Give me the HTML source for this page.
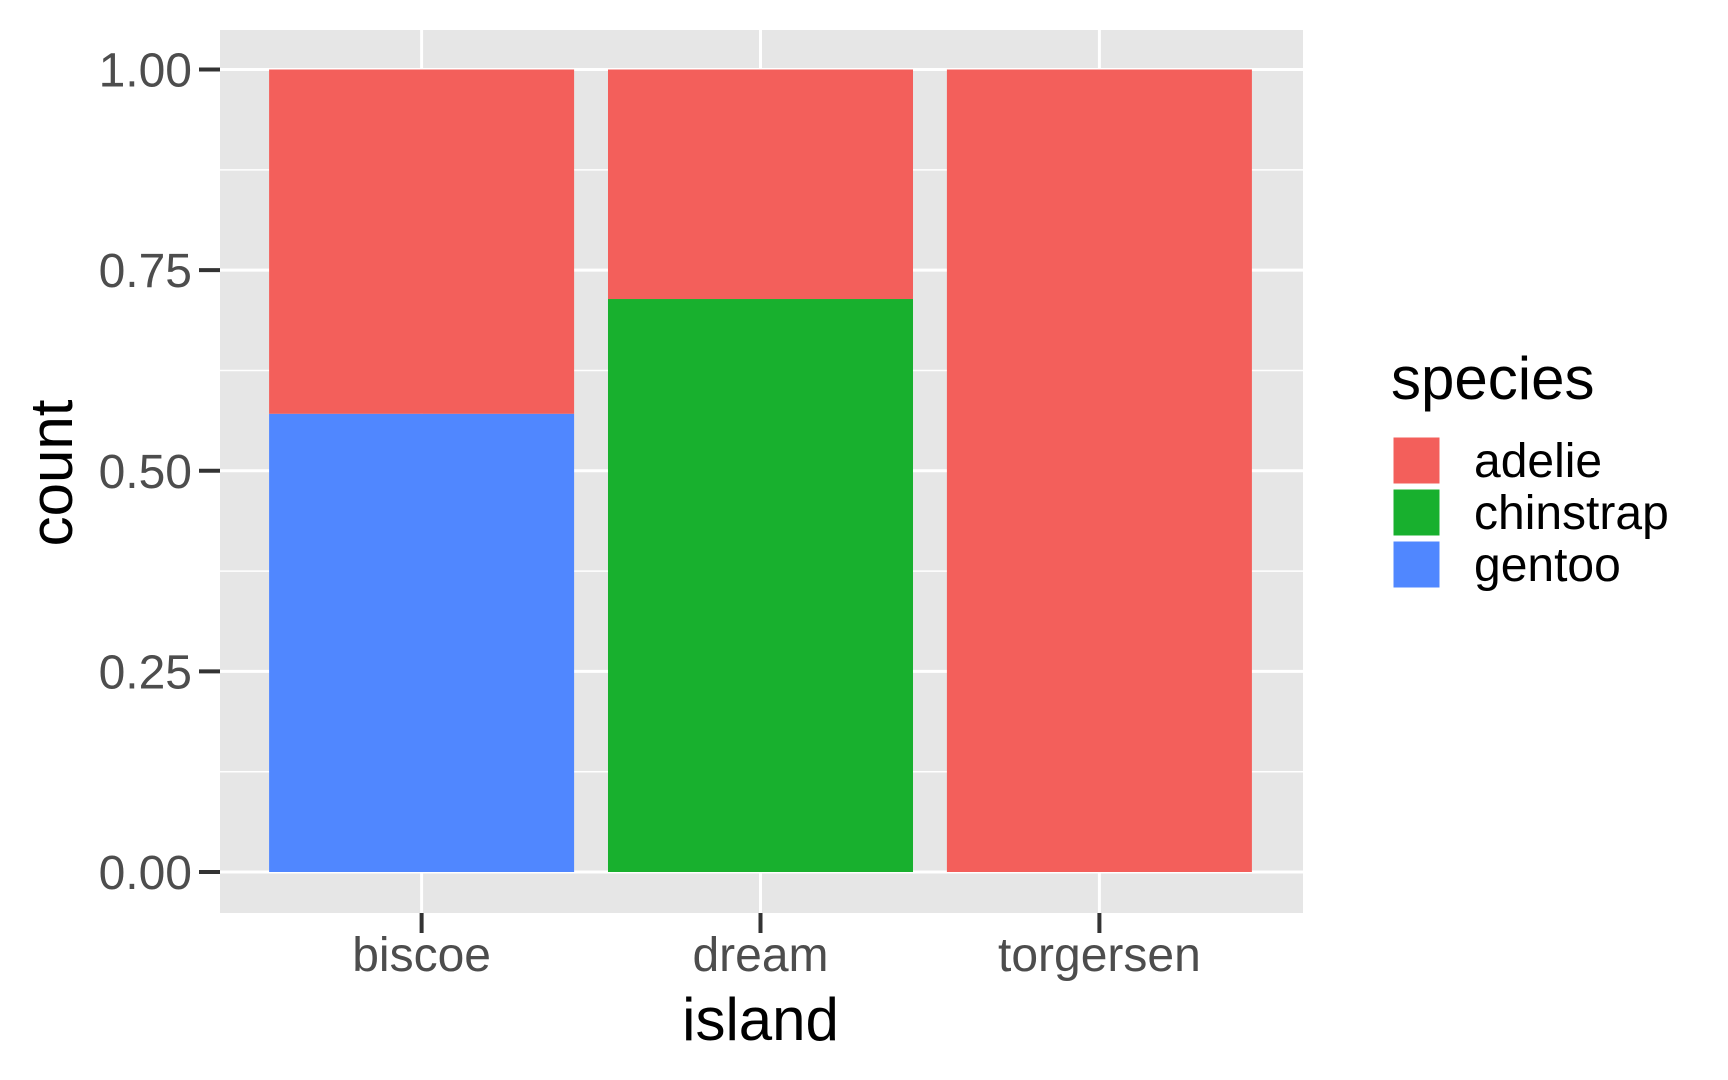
<!DOCTYPE html>
<html><head><meta charset="utf-8"><style>body{margin:0;background:#fff}svg{display:block}text{font-family:"Liberation Sans",sans-serif}</style></head>
<body>
<svg id="chart" width="1728" height="1080" xmlns="http://www.w3.org/2000/svg"></svg>
<script>
const categories = ["biscoe","dream","torgersen"];
const species = ["adelie","chinstrap","gentoo"];
const colors = ["#F35F5B","#18B02E","#5087FF"];
const adelie = [0.429, 0.286, 1.0];
const chinstrap = [0, 0.714, 0];
const gentoo = [0.571, 0, 0];
const yTicks = [0, 0.25, 0.5, 0.75, 1.0];
const yTickLabels = ["0.00","0.25","0.50","0.75","1.00"];

const NS="http://www.w3.org/2000/svg";
const svg=document.getElementById('chart');
const P={l:220,r:1303,t:30,b:913};
const y0=872,y1=69.5;
const yS=v=>y0-(y0-y1)*v;
const step=338.9, xC=i=>421.6+i*step, bw=step*0.9;
function mk(tag,attrs,parent){const e=document.createElementNS(NS,tag);for(const k in attrs)e.setAttribute(k,attrs[k]);(parent||svg).appendChild(e);return e;}

const panel=mk('rect',{x:P.l,y:P.t,width:P.r-P.l,height:P.b-P.t,fill:'#E6E6E6'});


for(let i=0;i<yTicks.length-1;i++){
  const v=(yTicks[i]+yTicks[i+1])/2;
  const g=mk('line',{x1:P.l,x2:P.r,y1:yS(v),y2:yS(v),stroke:'#fff','stroke-width':1.5});
  
  
}
yTicks.forEach((v,i)=>{
  const g=mk('line',{x1:P.l,x2:P.r,y1:yS(v),y2:yS(v),stroke:'#fff','stroke-width':3});
  
  
  const t=mk('line',{x1:199,x2:220,y1:yS(v),y2:yS(v),stroke:'#333','stroke-width':4});
  
  
  const l=mk('text',{x:192,y:yS(v)+17,'text-anchor':'end','font-size':48,fill:'#4D4D4D'});
  l.textContent=yTickLabels[i];
  
  
});
categories.forEach((c,i)=>{
  const g=mk('line',{x1:xC(i),x2:xC(i),y1:P.t,y2:P.b,stroke:'#fff','stroke-width':3});
  
  
  const t=mk('line',{x1:xC(i),x2:xC(i),y1:P.b,y2:P.b+20,stroke:'#333','stroke-width':4});
  
  
  const l=mk('text',{x:xC(i),y:971,'text-anchor':'middle','font-size':48,fill:'#4D4D4D'});
  l.textContent=c;
  
  
});
const series=[gentoo,chinstrap,adelie], sIdx=[2,1,0];
categories.forEach((c,i)=>{
  let base=0;
  series.forEach((arr,k)=>{
    const v=arr[i]; if(v<=0) return;
    const r=mk('rect',{x:xC(i)-bw/2,y:yS(base+v),width:bw,height:yS(base)-yS(base+v),fill:colors[sIdx[k]]});
    
    
    base+=v;
  });
});
const xt=mk('text',{x:(P.l+P.r)/2-1,y:1040,'text-anchor':'middle','font-size':60,fill:'#000'});
xt.textContent='island';


const yt=mk('text',{x:0,y:0,'text-anchor':'middle','font-size':60,fill:'#000',transform:'translate(72,473) rotate(-90)'});
yt.textContent='count';


const lg=mk('g',{});


const lt=mk('text',{x:1391,y:399,'font-size':60,fill:'#000'},lg);
lt.textContent='species';


species.forEach((s,i)=>{
  const k=mk('rect',{x:1393,y:437+i*52,width:47,height:47,fill:colors[i],stroke:'#fff','stroke-width':1});
  
  
  const t=mk('text',{x:1474,y:477+i*52,'font-size':48,fill:'#000'},lg);
  t.textContent=s;
  
  
});
</script>
</body></html>
